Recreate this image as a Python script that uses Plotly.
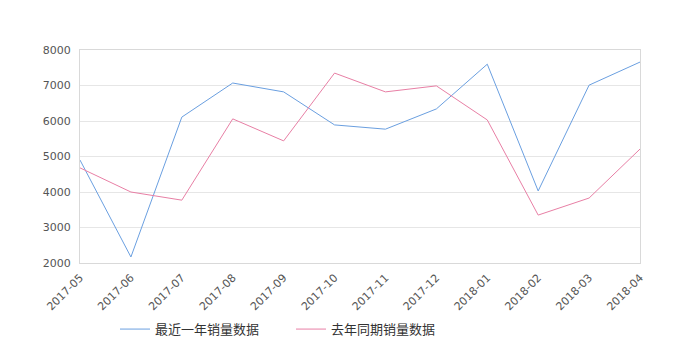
import plotly.graph_objects as go

months = ["2017-05", "2017-06", "2017-07", "2017-08", "2017-09", "2017-10",
          "2017-11", "2017-12", "2018-01", "2018-02", "2018-03", "2018-04"]
recent = [4900, 2170, 6110, 7070, 6820, 5890, 5770, 6340, 7600, 4030, 7010, 7660]
last_year = [4680, 4000, 3770, 6060, 5440, 7350, 6820, 6990, 6030, 3350, 3830, 5210]
name_recent = "最近一年销量数据"
name_last = "去年同期销量数据"

fig = go.Figure()
fig.add_trace(go.Scatter(x=months, y=recent, mode="lines", name=name_recent,
                         line=dict(color="#6a9fe0", width=1)))
fig.add_trace(go.Scatter(x=months, y=last_year, mode="lines", name=name_last,
                         line=dict(color="#e87fa5", width=1)))

tickfont = dict(family="DejaVu Sans, sans-serif", size=11, color="#555")

fig.update_layout(
    width=680, height=350,
    margin=dict(l=80, r=40, t=50, b=87, autoexpand=False),
    plot_bgcolor="white", paper_bgcolor="white",
    font=dict(family="Noto Sans CJK SC, DejaVu Sans, sans-serif", size=11, color="#555"),
    xaxis=dict(type="category", tickangle=-45, showgrid=False, automargin=False,
               showline=True, linecolor="#d9d9d9", mirror=True,
               ticks="outside", ticklen=3, tickcolor="rgba(0,0,0,0)",
               range=[0, 11], tickfont=tickfont),
    yaxis=dict(range=[2000, 8000], dtick=1000, showgrid=True, gridcolor="#e6e6e6",
               showline=True, linecolor="#d9d9d9", mirror=True, zeroline=False,
               automargin=False, ticks="outside", ticklen=6, tickcolor="rgba(0,0,0,0)",
               tickfont=tickfont),
    legend=dict(orientation="h", x=0.0625, xanchor="left", y=-0.24, yanchor="top",
                font=dict(size=13, color="#333"), entrywidth=131, itemwidth=30),
    showlegend=True,
)

fig.write_html("out.html")
